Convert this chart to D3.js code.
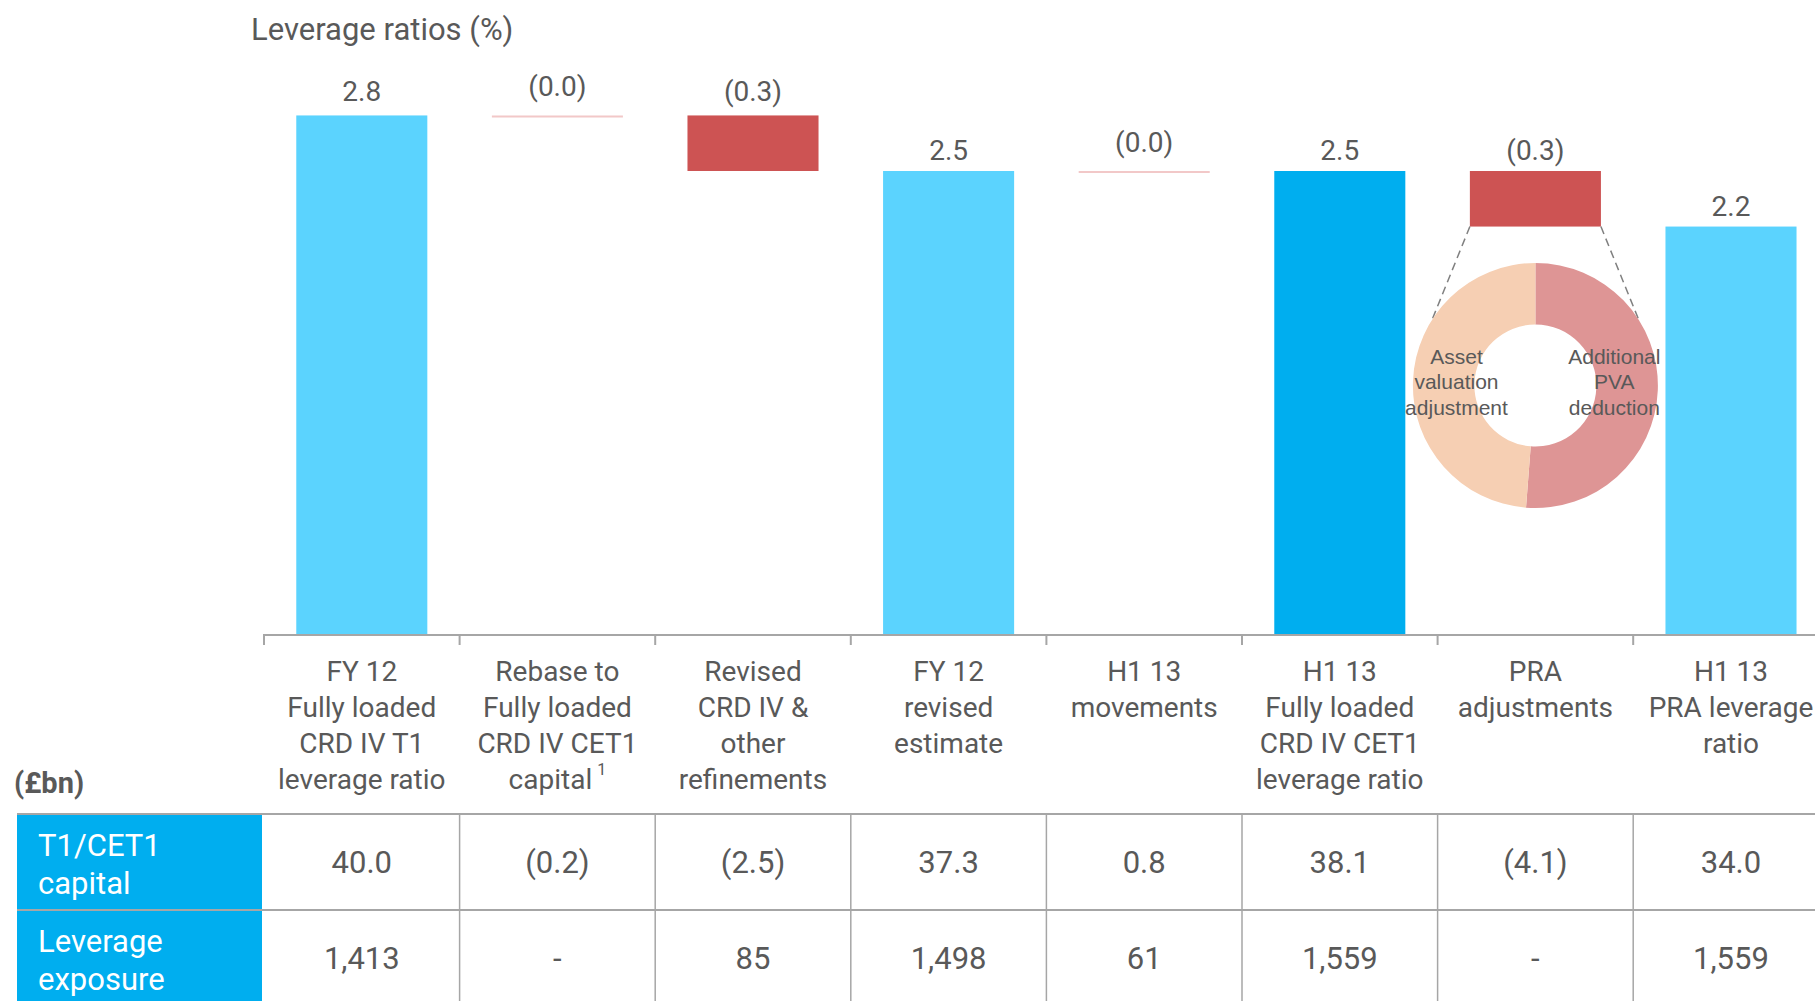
<!DOCTYPE html>
<html>
<head>
<meta charset="utf-8">
<script src="https://cdn.jsdelivr.net/npm/d3@7"></script>
<style>
  body { margin: 0; background: #fff; }
  svg { display: block; }
</style>
</head>
<body>
<svg id="chart" width="1815" height="1001"></svg>
<script>
  /*
   * Chart data
   */

  // Category captions, one array of lines per column
  var CATEGORY_LINES = [
    ["FY 12", "Fully loaded", "CRD IV T1", "leverage ratio"],
    ["Rebase to", "Fully loaded", "CRD IV CET1", "capital"],
    ["Revised", "CRD IV &", "other", "refinements"],
    ["FY 12", "revised", "estimate"],
    ["H1 13", "movements"],
    ["H1 13", "Fully loaded", "CRD IV CET1", "leverage ratio"],
    ["PRA", "adjustments"],
    ["H1 13", "PRA leverage", "ratio"]
  ];

  // Footnote marker on the rebase column
  var FOOTNOTES = ["", "1", "", "", "", "", "", ""];

  // Leverage ratio (%) steps: totals are absolute, deltas are movements
  var RATIO_VALUES = [2.8, 0.0, -0.3, 2.5, 0.0, 2.5, -0.3, 2.2];
  var BAR_KINDS = ["total", "delta", "delta", "total", "delta", "highlight", "delta", "total"];
  var RATIO_LABELS = ["2.8", "(0.0)", "(0.3)", "2.5", "(0.0)", "2.5", "(0.3)", "2.2"];

  // Table rows (£bn)
  var ROW_NAMES = [["T1/CET1", "capital"], ["Leverage", "exposure"]];
  var CAPITAL = ["40.0", "(0.2)", "(2.5)", "37.3", "0.8", "38.1", "(4.1)", "34.0"];
  var EXPOSURE = ["1,413", "-", "85", "1,498", "61", "1,559", "-", "1,559"];

  // Breakdown of the PRA adjustment
  var PRA_PARTS = [["Additional", "PVA", "deduction"], ["Asset", "valuation", "adjustment"]];
  var PRA_VALUES = [2.1, 2.0];
  var PRA_COLUMN = 6;

  /*
   * Layout
   */
  var WIDTH = 1815;
  var FONT = "Roboto, 'Open Sans', sans-serif";
  var TEXT_COLOR = "#595959";
  var GRID_COLOR = "#a6a6a6";
  var COLORS = {
    total: "#5bd3fe",
    highlight: "#00aeef",
    delta: "#cd5353",
    zero: "#f2c8c8"
  };
  var PIE_COLORS = ["#de9595", "#f6cfb3"];

  var COL_LEFT = 264;
  var COL_STEP = 195.6;
  var BAR_FRAC = 0.67;
  var AXIS_Y = 634;
  var UNIT_PX = 185.2;
  var TABLE_TOP = 814;
  var ROW_H = 96;

  var svg = d3.select("#chart");

  var x = d3.scaleBand()
    .domain(d3.range(CATEGORY_LINES.length))
    .range([COL_LEFT, COL_LEFT + COL_STEP * CATEGORY_LINES.length])
    .padding(0);
  var bw = x.bandwidth();
  var barW = bw * BAR_FRAC;
  var barX = function (i) { return x(i) + (bw - barW) / 2; };

  var y = d3.scaleLinear()
    .domain([0, 2.8])
    .range([AXIS_Y, AXIS_Y - 2.8 * UNIT_PX]);

  // waterfall spans
  var running = 0;
  var spans = RATIO_VALUES.map(function (v, i) {
    var kind = BAR_KINDS[i];
    var s;
    if (kind === "delta") {
      s = { i: i, kind: kind, from: running, to: running + v };
      running = running + v;
    } else {
      s = { i: i, kind: kind, from: 0, to: v };
      running = v;
    }
    s.label = RATIO_LABELS[i];
    return s;
  });

  // Title
  svg.append("text")
    .attr("x", 251)
    .attr("y", 40)
    .attr("font-family", FONT)
    .attr("font-size", 31)
    .attr("fill", TEXT_COLOR)
    .text("Leverage ratios (%)");

  // Bars
  var g = svg.append("g").attr("class", "bars");
  g.selectAll("rect.bar")
    .data(spans.filter(function (d) { return d.from !== d.to; }))
    .enter().append("rect")
      .attr("class", "bar")
      .attr("x", function (d) { return barX(d.i); })
      .attr("width", barW)
      .attr("y", function (d) { return y(Math.max(d.from, d.to)); })
      .attr("height", function (d) { return Math.abs(y(d.from) - y(d.to)); })
      .attr("fill", function (d) { return COLORS[d.kind]; });

  // zero movements are only a thin line
  g.selectAll("line.zero")
    .data(spans.filter(function (d) { return d.from === d.to; }))
    .enter().append("line")
      .attr("class", "zero")
      .attr("x1", function (d) { return barX(d.i); })
      .attr("x2", function (d) { return barX(d.i) + barW; })
      .attr("y1", function (d) { return y(d.to) + 1; })
      .attr("y2", function (d) { return y(d.to) + 1; })
      .attr("stroke", COLORS.zero)
      .attr("stroke-width", 2);

  g.selectAll("text.value")
    .data(spans)
    .enter().append("text")
      .attr("class", "value")
      .attr("x", function (d) { return x(d.i) + bw / 2; })
      .attr("y", function (d) {
        var off = d.from === d.to ? 19 : (d.i > 2 ? 11 : 14);
        return y(Math.max(d.from, d.to)) - off;
      })
      .attr("text-anchor", "middle")
      .attr("font-family", FONT)
      .attr("font-size", 28)
      .attr("fill", TEXT_COLOR)
      .text(function (d) { return d.label; });

  // Axis line + ticks at the column boundaries
  var axis = svg.append("g").attr("class", "axis");
  axis.append("line")
    .attr("x1", COL_LEFT).attr("x2", WIDTH)
    .attr("y1", AXIS_Y + 1).attr("y2", AXIS_Y + 1)
    .attr("stroke", GRID_COLOR).attr("stroke-width", 2);
  axis.selectAll("line.tick")
    .data(x.domain())
    .enter().append("line")
      .attr("class", "tick")
      .attr("x1", function (d) { return x(d); })
      .attr("x2", function (d) { return x(d); })
      .attr("y1", AXIS_Y)
      .attr("y2", AXIS_Y + 11)
      .attr("stroke", GRID_COLOR).attr("stroke-width", 2);

  // Category captions
  var cap = axis.selectAll("text.cat")
    .data(x.domain())
    .enter().append("text")
      .attr("class", "cat")
      .attr("text-anchor", "middle")
      .attr("font-family", FONT)
      .attr("font-size", 28)
      .attr("fill", TEXT_COLOR);
  cap.each(function (i) {
    var t = d3.select(this);
    CATEGORY_LINES[i].forEach(function (line, k) {
      var ts = t.append("tspan")
        .attr("x", x(i) + bw / 2)
        .attr("y", 681 + k * 36)
        .text(line);
      if (k === CATEGORY_LINES[i].length - 1 && FOOTNOTES[i]) {
        ts.append("tspan")
          .attr("font-size", 16)
          .attr("dx", 5)
          .attr("dy", -14)
          .text(FOOTNOTES[i]);
      }
    });
  });

  svg.append("text")
    .attr("x", 14)
    .attr("y", 793)
    .attr("font-family", FONT)
    .attr("font-size", 29)
    .attr("font-weight", "bold")
    .attr("fill", TEXT_COLOR)
    .text("(£bn)");

  // Table
  var table = svg.append("g").attr("class", "table");
  var rows = [CAPITAL, EXPOSURE];

  table.selectAll("rect.head")
    .data(ROW_NAMES)
    .enter().append("rect")
      .attr("class", "head")
      .attr("x", 17)
      .attr("y", function (d, r) { return TABLE_TOP + r * ROW_H; })
      .attr("width", COL_LEFT - 19)
      .attr("height", ROW_H)
      .attr("fill", COLORS.highlight);

  table.selectAll("text.head")
    .data(ROW_NAMES)
    .enter().append("text")
      .attr("class", "head")
      .attr("font-family", FONT)
      .attr("font-size", 31)
      .attr("fill", "#fff")
      .each(function (lines, r) {
        var t = d3.select(this);
        lines.forEach(function (line, k) {
          t.append("tspan")
            .attr("x", 38)
            .attr("y", TABLE_TOP + r * ROW_H + 42 + k * 38)
            .text(line);
        });
      });

  [0, 1].forEach(function (r) {
    table.append("line")
      .attr("x1", 17).attr("x2", WIDTH)
      .attr("y1", TABLE_TOP + r * ROW_H).attr("y2", TABLE_TOP + r * ROW_H)
      .attr("stroke", GRID_COLOR).attr("stroke-width", 2);
  });
  table.selectAll("line.col")
    .data(x.domain().slice(1))
    .enter().append("line")
      .attr("class", "col")
      .attr("x1", function (d) { return x(d); })
      .attr("x2", function (d) { return x(d); })
      .attr("y1", TABLE_TOP)
      .attr("y2", TABLE_TOP + 2 * ROW_H)
      .attr("stroke", GRID_COLOR).attr("stroke-width", 1.5);

  rows.forEach(function (vals, r) {
    table.selectAll("text.r" + r)
      .data(vals)
      .enter().append("text")
        .attr("class", "r" + r)
        .attr("x", function (d, i) { return x(i) + bw / 2; })
        .attr("y", TABLE_TOP + r * ROW_H + ROW_H / 2 + 11)
        .attr("text-anchor", "middle")
        .attr("font-family", FONT)
        .attr("font-size", 31)
        .attr("fill", TEXT_COLOR)
        .text(function (d) { return d; });
  });

  // PRA breakdown doughnut
  var OUTER = 122.5, INNER = 61;
  var cx = x(PRA_COLUMN) + bw / 2;
  var cy = 385.5;
  var pie = d3.pie().sort(null)(PRA_VALUES);
  var arc = d3.arc().innerRadius(INNER).outerRadius(OUTER);
  var labelArc = d3.arc().innerRadius(0).outerRadius(158);

  var donut = svg.append("g")
    .attr("class", "donut")
    .attr("transform", "translate(" + cx + "," + cy + ")");

  // dashed connectors from the red bar down to the ring
  var praSpan = spans[PRA_COLUMN];
  var praBottom = y(Math.min(praSpan.from, praSpan.to)) - cy;
  var CONNECT_ANGLE = 57.4 * Math.PI / 180;
  [-1, 1].forEach(function (side) {
    var bx = side < 0 ? barX(PRA_COLUMN) - cx : barX(PRA_COLUMN) + barW - cx;
    donut.append("line")
      .attr("x1", bx)
      .attr("y1", praBottom)
      .attr("x2", side * OUTER * Math.sin(CONNECT_ANGLE))
      .attr("y2", -OUTER * Math.cos(CONNECT_ANGLE))
      .attr("stroke", "#808080")
      .attr("stroke-width", 1.5)
      .attr("stroke-dasharray", "8,5");
  });

  donut.selectAll("path")
    .data(pie)
    .enter().append("path")
      .attr("d", arc)
      .attr("fill", function (d, i) { return PIE_COLORS[i]; });

  donut.selectAll("text")
    .data(pie)
    .enter().append("text")
      .attr("text-anchor", "middle")
      .attr("font-family", "'Liberation Sans', Arial, sans-serif")
      .attr("font-size", 21)
      .attr("fill", TEXT_COLOR)
      .each(function (d, i) {
        var t = d3.select(this);
        var c = labelArc.centroid(d);
        PRA_PARTS[i].forEach(function (line, k) {
          t.append("tspan")
            .attr("x", c[0])
            .attr("y", -22 + k * 25.5)
            .text(line);
        });
      });
</script>
</body>
</html>
